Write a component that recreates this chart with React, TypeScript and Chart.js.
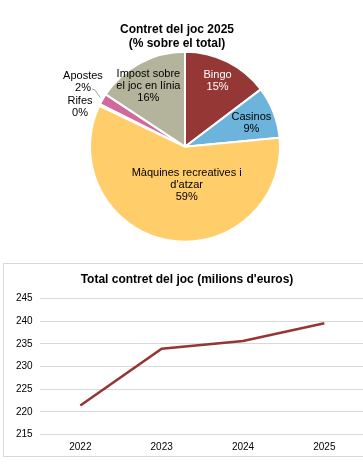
import React, { useEffect, useRef } from "react";
import { Chart, registerables } from "chart.js";

Chart.register(...registerables);

// ---- Pie data ----
const pieTitle = ["Contret del joc 2025", "(% sobre el total)"];
const pieCategories: string[][] = [
  ["Bingo"],
  ["Casinos"],
  ["Màquines recreatives i", "d'atzar"],
  ["Rifes"],
  ["Apostes"],
  ["Impost sobre", "el joc en línia"],
];
const pieValues = [14.7, 8.8, 58.6, 0.3, 1.9, 15.7];
const pieColors = ["#953735", "#6CB4DB", "#FFCD69", "#E8A0C0", "#D2699C", "#B4B39C"];
const pieLabelColors = ["#ffffff", "#000000", "#000000", "#000000", "#000000", "#000000"];

// ---- Line data ----
const lineTitle = "Total contret del joc (milions d'euros)";
const years = ["2022", "2023", "2024", "2025"];
const totals = [221.4, 233.9, 235.6, 239.5];
const yMin = 215;
const yMax = 245;
const yStep = 5;

const FONT = "'Liberation Sans', Arial, sans-serif";

// label placement (radial fraction of outer radius + pixel nudge)
const labelPlacement = [
  { f: 0.77, dx: 0, dy: 0 },
  { f: 0.75, dx: 0, dy: 2 },
  { f: 0.41, dx: 8.5, dy: 0 },
  { f: 1.0, dx: -19.7, dy: 2.1 },
  { f: 1.0, dx: -19.8, dy: -17.1, leader: true },
  { f: 0.77, dx: -2, dy: 3.5 },
];

const pieTitlePlugin = {
  id: "pieTitle",
  afterDraw(chart: any) {
    const ctx = chart.ctx;
    ctx.save();
    ctx.font = `bold 12px ${FONT}`;
    ctx.fillStyle = "#000";
    ctx.textAlign = "center";
    ctx.textBaseline = "middle";
    const x = chart.width / 2;
    pieTitle.forEach((t, k) => ctx.fillText(t, x, 30 + k * 13.3));
    ctx.restore();
  },
};

const pieLabelPlugin = {
  id: "pieLabels",
  afterDatasetsDraw(chart: any) {
    const ctx = chart.ctx;
    const meta = chart.getDatasetMeta(0);
    const total = pieValues.reduce((a, b) => a + b, 0);
    ctx.save();
    ctx.font = `11px ${FONT}`;
    ctx.textAlign = "center";
    ctx.textBaseline = "middle";
    meta.data.forEach((arc: any, i: number) => {
      const p = arc.getProps(["x", "y", "startAngle", "endAngle", "outerRadius"], true);
      const mid = (p.startAngle + p.endAngle) / 2;
      const pl = labelPlacement[i];
      const ax = p.x + Math.cos(mid) * p.outerRadius * pl.f + pl.dx;
      const ay = p.y + Math.sin(mid) * p.outerRadius * pl.f + pl.dy;
      const lines = [...pieCategories[i], Math.round((pieValues[i] / total) * 100) + "%"];
      ctx.fillStyle = pieLabelColors[i];
      lines.forEach((t, k) => ctx.fillText(t, ax, ay + (k - (lines.length - 1) / 2) * 12));
      if ((pl as any).leader) {
        const sx = p.x + Math.cos(mid) * p.outerRadius * 1.03;
        const sy = p.y + Math.sin(mid) * p.outerRadius * 1.03;
        ctx.strokeStyle = "#a6a6a6";
        ctx.lineWidth = 1;
        ctx.beginPath();
        ctx.moveTo(sx, sy);
        ctx.lineTo(ax + 12, ay + 8);
        ctx.lineTo(ax + 9, ay + 7);
        ctx.stroke();
      }
    });
    ctx.restore();
  },
};

function PieChart() {
  const ref = useRef<HTMLCanvasElement | null>(null);
  useEffect(() => {
    if (!ref.current) return;
    const chart = new Chart(ref.current, {
      type: "pie",
      data: {
        labels: pieCategories.map((c) => c.join(" ")),
        datasets: [
          {
            data: pieValues,
            backgroundColor: pieColors,
            borderColor: "#ffffff",
            borderWidth: 2,
            hoverOffset: 0,
            offset: 0,
          },
        ],
      },
      options: {
        animation: false,
        responsive: false,
        maintainAspectRatio: false,
        events: [],
        layout: { padding: { top: 50.7, bottom: 7.3, left: 16, right: 0 } },
        plugins: {
          legend: { display: false },
          tooltip: { enabled: false },
          title: { display: false },
        },
      } as any,
      plugins: [pieTitlePlugin, pieLabelPlugin],
    });
    return () => chart.destroy();
  }, []);
  return (
    <canvas
      ref={ref}
      width={354}
      height={250}
      style={{ position: "absolute", left: 0, top: 0, width: 354, height: 250 }}
    />
  );
}

function LineChart() {
  const ref = useRef<HTMLCanvasElement | null>(null);
  useEffect(() => {
    if (!ref.current) return;
    const chart = new Chart(ref.current, {
      type: "line",
      data: {
        labels: years,
        datasets: [
          {
            data: totals,
            borderColor: "#943634",
            borderWidth: 2.6,
            pointRadius: 0,
            tension: 0,
            fill: false,
          },
        ],
      },
      options: {
        animation: false,
        responsive: false,
        maintainAspectRatio: false,
        events: [],
        layout: { padding: { left: 5, right: 8, top: 0, bottom: -3.5 } },
        plugins: {
          legend: { display: false },
          tooltip: { enabled: false },
          title: {
            display: true,
            text: lineTitle,
            color: "#000",
            font: { family: FONT, size: 12, weight: "bold" },
            padding: { top: 8, bottom: 12 },
          },
        },
        scales: {
          x: {
            offset: true,
            grid: { display: false, drawTicks: false, tickLength: 0 },
            border: { display: false },
            ticks: { color: "#000", font: { family: FONT, size: 10 }, padding: 6.5 },
          },
          y: {
            min: yMin,
            max: yMax,
            ticks: { stepSize: yStep, color: "#000", font: { family: FONT, size: 10 }, padding: 7 },
            grid: { color: "#d9d9d9", lineWidth: 1, drawTicks: false },
            border: { display: false },
          },
        },
      } as any,
    });
    return () => chart.destroy();
  }, []);
  return (
    <div
      style={{
        position: "absolute",
        left: 3,
        top: 263,
        width: 369,
        height: 192,
        border: "1px solid #d9d9d9",
      }}
    >
      <canvas ref={ref} width={369} height={192} style={{ display: "block", width: 369, height: 192 }} />
    </div>
  );
}

export default function App() {
  return (
    <div
      style={{
        position: "absolute",
        left: 0,
        top: 0,
        width: 363,
        height: 471,
        overflow: "hidden",
        background: "#fff",
      }}
    >
      <PieChart />
      <LineChart />
    </div>
  );
}
